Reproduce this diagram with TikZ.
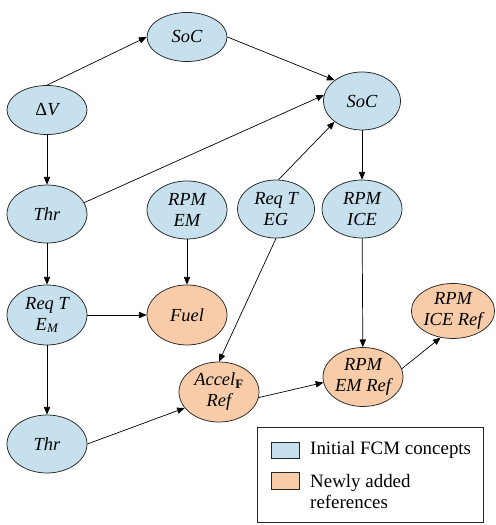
\documentclass[tikz,border=0pt]{standalone}
\usepackage{fontspec}
\setmainfont{Liberation Serif}
\usetikzlibrary{shapes.geometric,arrows.meta}
\definecolor{conceptblue}{RGB}{198,225,237}
\definecolor{refpeach}{RGB}{248,204,168}
\tikzset{
  concept/.style={ellipse,draw=black!85,line width=0.75pt,fill=conceptblue,minimum width=2.822cm,minimum height=2.046cm,inner sep=0pt,align=center,font=\fontsize{18.5}{21}\selectfont\itshape},
  newref/.style={concept,fill=refpeach},
  link/.style={line width=0.7pt,-{Triangle[length=2.7mm,width=2.2mm]}},
  swatch/.style={draw=black!85,line width=0.8pt},
  legendtext/.style={inner sep=0pt,align=left,font=\fontsize{19}{21}\selectfont}
}
\begin{document}
\begin{tikzpicture}
\useasboundingbox (0,0) rectangle (17.463,-18.521);
\node[concept,minimum height=1.729cm] (socA) at (6.597,-1.305) {SoC};
\node[concept,minimum height=1.729cm] (dV) at (1.658,-3.881) {{\upshape Δ}V};
\node[concept] (thrA) at (1.658,-7.550) {Thr};
\node[concept] (rpmEM) at (6.597,-7.408) {RPM\\EM};
\node[concept,minimum width=2.716cm] (socB) at (12.771,-3.563) {SoC};
\node[concept,minimum width=2.716cm] (reqEG) at (9.737,-7.373) {Req T\\EG};
\node[concept] (rpmICE) at (12.771,-7.373) {RPM\\ICE};
\node[concept,minimum height=2.117cm] (reqEM) at (1.658,-11.112) {Req T\\E\textsubscript{M}};
\node[newref,minimum height=2.117cm] (fuel) at (6.597,-11.112) {Fuel};
\node[newref,minimum height=2.117cm] (accel) at (7.726,-13.829) {Accel\textsubscript{\upshape\bfseries F}\\Ref};
\node[concept] (thrB) at (1.658,-15.663) {Thr};
\node[newref,minimum height=2.081cm] (rpmEMRef) at (12.806,-13.300) {RPM\\EM Ref};
\node[newref,minimum width=2.575cm,minimum height=1.940cm] (rpmICERef) at (15.981,-10.971) {RPM\\ICE Ref};
\draw[link] (dV.north) -- (socA.west);
\draw[link] (socA.east) -- (socB.north west);
\draw[link] (dV) -- (thrA);
\draw[link] (thrA.17) -- (socB.171);
\draw[link] (reqEG.85) -- (socB.south west);
\draw[link] (socB) -- (rpmICE);
\draw[link] (rpmEM) -- (fuel);
\draw[link] (thrA) -- (reqEM);
\draw[link] (reqEM) -- (fuel);
\draw[link] (reqEM) -- (thrB);
\draw[link] (reqEG.south) -- (accel.north);
\draw[link] (thrB.east) -- (accel.205);
\draw[link] (rpmICE) -- (rpmEMRef);
\draw[link] (accel.-8) -- (rpmEMRef.188);
\draw[link] (rpmEMRef.12) -- (rpmICERef.245);
\draw[line width=0.8pt,draw=black!85] (9.066,-15.064) rectangle (17.039,-18.415);
\draw[swatch,fill=conceptblue] (9.560,-15.593) rectangle (10.548,-16.157);
\draw[swatch,fill=refpeach] (9.560,-16.651) rectangle (10.548,-17.251);
\node[legendtext,anchor=base west] (initLabel) at (10.936,-16.051) {Initial FCM concepts};
\node[legendtext,anchor=north west] (newLabel) at (10.936,-16.722) {Newly added\\references};
\end{tikzpicture}
\end{document}
